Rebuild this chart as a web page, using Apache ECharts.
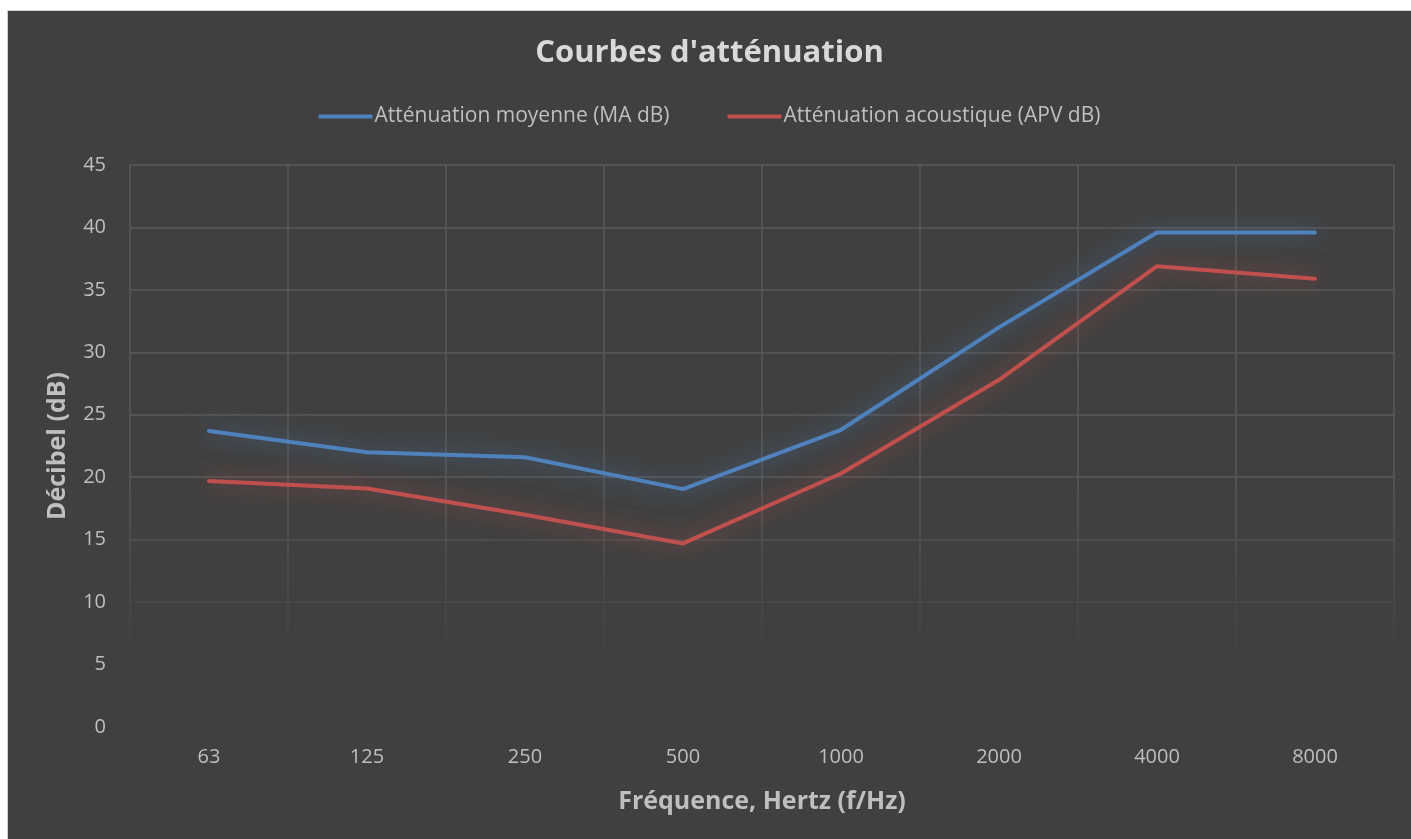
<!DOCTYPE html>
<html>
<head>
<meta charset="utf-8">
<script src="https://cdn.jsdelivr.net/npm/echarts@6/dist/echarts.min.js"></script>
<style>
  html, body { margin: 0; padding: 0; background: #fff; }
  #chart { position: absolute; left: 7px; top: 10px; width: 1403px; height: 828px; border-left: 1px solid #d0d0d0; border-top: 1px solid #d0d0d0; }
</style>
</head>
<body>
<div id="chart"></div>
<script>
const frequencies = ['63', '125', '250', '500', '1000', '2000', '4000', '8000']
const moyenne = [23.7, 22.0, 21.6, 19.05, 23.8, 32.0, 39.6, 39.6]
const acoustique = [19.7, 19.1, 17.0, 14.7, 20.3, 27.8, 36.9, 35.9]

const textColor = '#bfbfbf'
const font = 'Open Sans'

const chart = echarts.init(document.getElementById('chart'))

const lineSeries = (name, data, color, glow) => ({
  name,
  type: 'line',
  data,
  z: 3,
  symbol: 'none',
  lineStyle: {
    width: 4,
    color,
    cap: 'round',
    join: 'round',
    shadowColor: glow,
    shadowBlur: 22
  },
  itemStyle: { color }
})

chart.setOption({
  backgroundColor: '#404040',
  title: {
    text: "Courbes d'atténuation",
    left: 'center',
    top: 22,
    textStyle: { color: '#d9d9d9', fontFamily: font, fontWeight: 'bold', fontSize: 31 }
  },
  legend: {
    top: 90,
    left: 'center',
    icon: 'roundRect',
    itemWidth: 54,
    itemHeight: 4,
    itemGap: 58,
    textStyle: { color: textColor, fontFamily: font, fontSize: 21, padding: [0, 0, 0, -3] }
  },
  grid: { left: 122, right: 17, top: 154, bottom: 112 },
  xAxis: {
    type: 'category',
    data: frequencies,
    boundaryGap: true,
    name: 'Fréquence, Hertz (f/Hz)',
    nameLocation: 'middle',
    nameGap: 62,
    nameTextStyle: { color: textColor, fontFamily: font, fontWeight: 'bold', fontSize: 25 },
    axisLine: { show: false },
    axisTick: { show: false },
    axisLabel: { color: textColor, fontFamily: font, fontSize: 20, margin: 20 },
    splitLine: { show: true, lineStyle: { color: '#5a5a5a', width: 1.5 } }
  },
  yAxis: {
    type: 'value',
    min: 0,
    max: 45,
    interval: 5,
    name: 'Décibel (dB)',
    nameLocation: 'middle',
    nameGap: 60,
    nameTextStyle: { color: textColor, fontFamily: font, fontWeight: 'bold', fontSize: 25 },
    axisLine: { show: false },
    axisTick: { show: false },
    axisLabel: { color: textColor, fontFamily: font, fontSize: 20, margin: 24 },
    splitLine: { lineStyle: { color: '#5a5a5a', width: 1.5 } }
  },
  // fade the grid out towards the bottom, like the original
  graphic: [{
    type: 'rect',
    z: 1,
    shape: { x: 120, y: 470, width: 1268, height: 248 },
    style: {
      fill: new echarts.graphic.LinearGradient(0, 0, 0, 1, [
        { offset: 0, color: 'rgba(64,64,64,0)' },
        { offset: 0.75, color: 'rgba(64,64,64,1)' },
        { offset: 1, color: 'rgba(64,64,64,1)' }
      ])
    }
  }],
  series: [
    lineSeries('Atténuation moyenne (MA dB)', moyenne, '#4f81bd', 'rgba(79,129,189,0.85)'),
    lineSeries('Atténuation acoustique (APV dB)', acoustique, '#c0504d', 'rgba(192,80,77,0.85)')
  ]
})
</script>
</body>
</html>
